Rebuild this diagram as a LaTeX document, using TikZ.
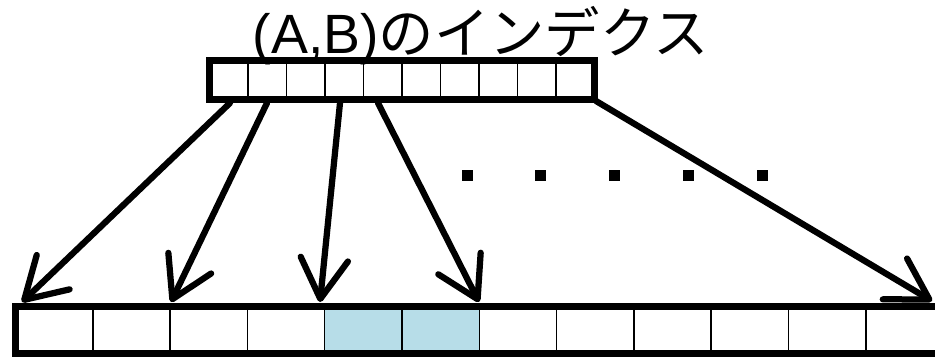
\documentclass[tikz,border=0pt]{standalone}
\usepackage{fontspec}
\setmainfont{Liberation Sans}
\newfontfamily\jpfont{Noto Sans CJK JP}
\usetikzlibrary{arrows.meta}
\definecolor{hit}{HTML}{B7DDE8}

\begin{document}
\begin{tikzpicture}[x=.2mm,y=-.2mm,frame/.style={line width=1.4mm},cell/.style={line width=.3mm},ptr/.style={-{Straight Barb[length=8mm,width=9.5mm,round]},line width=1.25mm,line cap=round},dot/.style={fill=black}]
 \clip (0,0) rectangle (935,357);
 \node[anchor=base,font=\fontsize{31.5}{36}\selectfont,inner sep=0] (title) at (481,53) {(A,B){\jpfont のインデクス}};
 % index: 10 slots
 \foreach \i in {0,...,9}{\draw[cell] (209.5+38.5*\i,60.5) rectangle ++(38.5,39);}
 \draw[frame] (209.5,60.5) rectangle (594.5,99.5);
 % data: 12 slots, two of them hit
 \fill[hit] (15.5+77.3*4,306.5) rectangle ++(154.6,47);
 \foreach \i in {0,...,11}{\draw[cell] (15.5+77.3*\i,306.5) rectangle ++(77.3,47);}
 \draw[frame] (15.5,306.5) rectangle (943,353.5);
 % pointers from index slots into the data
 \foreach \s/\t [count=\k] in {230/22,267/171,340/320,378/479}{
  \coordinate (src\k) at (\s,103); \coordinate (dst\k) at (\t,302);
  \draw[ptr] (src\k)--(dst\k);}
 \coordinate (src5) at (596,101); \coordinate (dst5) at (932,301);
 \draw[ptr] (src5)--(dst5);
 \foreach \x in {0,...,4}{\fill[dot] (461.5+73.75*\x,169.5) rectangle ++(11,11);}
\end{tikzpicture}
\end{document}
